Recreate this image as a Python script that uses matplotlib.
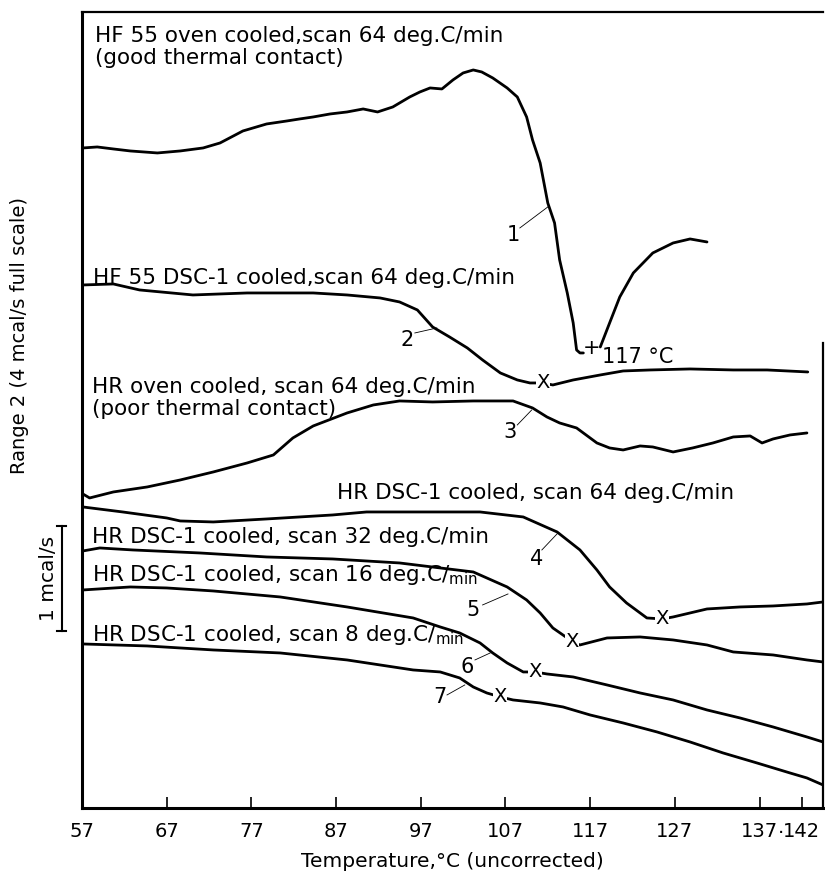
import matplotlib
matplotlib.use("Agg")
from matplotlib import pyplot as plt

plt.rcParams['mathtext.fontset'] = 'dejavusans'

# temperature (deg C) and recorder deflection (chart units, 0 = bottom of chart)
t1 = [57.1, 58.8, 60.7, 62.7, 65.9, 68.6, 71.3, 73.3, 76.0, 78.8, 81.2, 82.7, 84.3, 86.3,
      88.3, 90.2, 91.9, 93.7, 95.7, 96.9, 98.1, 99.5, 100.8, 102.0, 103.2, 104.2, 105.5,
      107.2, 108.4, 109.5, 110.2, 111.1, 112.0, 112.8, 113.4, 114.3, 115.0, 115.4, 115.8, 116.2]
y1 = [660, 661, 659, 657, 655, 657, 660, 665, 677, 684, 687, 689, 691, 694,
      696, 699, 696, 701, 711, 716, 720, 719, 728, 735, 738, 736, 730,
      720, 711, 691, 668, 645, 605, 585, 548, 515, 485, 458, 455, 455]
t1b = [118.2, 119.3, 120.5, 122.1, 124.4, 126.8, 128.8, 130.8]
y1b = [461, 485, 511, 535, 555, 565, 569, 566]

t2 = [57.1, 60.7, 63.8, 70.1, 76.5, 81.2, 84.3, 88.3, 92.2, 94.5, 96.6, 98.4, 100.4, 102.5,
      104.3, 106.4, 108.4, 109.9, 111.4, 112.6, 115.0, 118.2, 120.9, 124.1, 128.8, 133.9,
      137.9, 142.7]
y2 = [523, 524, 518, 513, 515, 515, 515, 513, 510, 506, 498, 481, 471, 460,
      448, 435, 428, 425, 425, 423, 428, 433, 437, 438, 439, 438, 438, 436]

t3 = [57.1, 57.9, 60.7, 64.7, 68.6, 72.5, 76.5, 79.6, 81.9, 84.3, 88.3, 91.4, 94.5, 98.4,
      103.2, 107.9, 110.2, 111.9, 113.4, 115.4, 117.8, 119.3, 120.9, 122.9, 124.4, 126.8,
      129.1, 131.5, 133.9, 135.9, 137.3, 138.6, 140.6, 142.6]
y3 = [314, 310, 316, 321, 328, 336, 345, 353, 370, 382, 395, 403, 407, 406,
      407, 407, 400, 391, 385, 380, 365, 360, 358, 362, 361, 356,
      360, 365, 371, 372, 365, 369, 373, 375]

t4 = [57.1, 61.8, 67.0, 68.6, 72.5, 78.8, 86.6, 90.6, 96.9, 104.0, 109.1, 113.1, 115.8,
      117.8, 119.3, 121.3, 123.7, 125.5, 126.8, 130.8, 134.7, 138.6, 142.6, 144.5]
y4 = [301, 296, 290, 287, 286, 289, 293, 296, 296, 296, 291, 276, 258,
      238, 221, 205, 190, 189, 191, 199, 201, 202, 204, 206]

t5 = [57.1, 59.1, 63.0, 70.9, 78.8, 86.6, 94.5, 99.3, 103.2, 107.2, 109.5, 111.1, 112.6,
      114.3, 114.9, 115.8, 119.0, 122.9, 126.8, 130.8, 133.9, 138.6, 142.6, 144.5]
y5 = [257, 260, 258, 255, 251, 249, 245, 240, 236, 221, 208, 195, 180,
      170, 166, 163, 170, 171, 168, 163, 156, 153, 148, 146]

t6 = [57.1, 62.7, 67.0, 72.5, 80.4, 88.3, 96.1, 99.3, 101.6, 104.0, 105.5, 107.2, 109.1,
      110.5, 111.9, 115.0, 119.0, 122.9, 126.8, 130.8, 134.7, 138.6, 142.6, 144.5]
y6 = [218, 221, 220, 217, 211, 201, 190, 181, 175, 165, 155, 145, 136,
      136, 134, 131, 123, 115, 108, 98, 90, 81, 71, 66]

t7 = [57.1, 64.7, 72.5, 80.4, 88.3, 96.1, 99.3, 101.6, 103.2, 104.8, 106.4, 107.9, 111.1,
      113.8, 117.0, 120.9, 124.9, 128.8, 132.7, 136.7, 140.6, 142.6, 144.5]
y7 = [164, 162, 158, 155, 148, 138, 136, 130, 121, 115, 111, 108, 105,
      101, 93, 85, 76, 66, 55, 45, 35, 30, 23]

# transition points marked with X on the traces
x_marks_t = [111.4, 125.5, 114.9, 110.5, 106.4]
x_marks_y = [425, 189, 166, 136, 111]

tick_temps = [57, 67, 77, 87, 97, 107, 117, 127, 137, 142]
tick_labels = ['57', '67', '77', '87', '97', '107', '117', '127', '137', '142']

captions = [
    "HF 55 oven cooled,scan 64 deg.C/min\n(good thermal contact)",
    "HF 55 DSC-1 cooled,scan 64 deg.C/min",
    "HR oven cooled, scan 64 deg.C/min\n(poor thermal contact)",
    "HR DSC-1 cooled, scan 64 deg.C/min",
    "HR DSC-1 cooled, scan 32 deg.C/min",
    r"HR DSC-1 cooled, scan 16 deg.C$/_{\mathrm{min}}$",
    r"HR DSC-1 cooled, scan 8 deg.C$/_{\mathrm{min}}$",
]
caption_t = [58.5, 58.3, 58.2, 87.1, 58.2, 58.2, 58.2]
caption_y = [761, 530, 410, 315, 271, 233, 173]

# curve numbers with their leader lines
num_t = [107.9, 95.4, 107.5, 110.7, 103.2, 102.5, 99.3]
num_y = [573, 468, 376, 249, 198, 141, 111]
lead_t0 = [108.7, 96.3, 108.4, 111.3, 104.3, 103.4, 100.1]
lead_y0 = [580, 475, 383, 258, 203, 148, 113]
lead_t1 = [112.0, 98.9, 110.1, 113.2, 107.3, 105.2, 102.2]
lead_y1 = [601, 480, 398, 275, 214, 155, 123]

fig = plt.figure(figsize=(8.25, 8.73), dpi=100)
ax = fig.add_axes([0.0994, 0.0745, 0.8982, 0.9118])

lw = 2.0
for t, y in [(t1, y1), (t1b, y1b), (t2, y2), (t3, y3), (t4, y4), (t5, y5), (t6, y6), (t7, y7)]:
    ax.plot(t, y, color='black', lw=lw, solid_capstyle='round', solid_joinstyle='round')

for t, y in zip(x_marks_t, x_marks_y):
    ax.text(t, y, 'X', ha='center', va='center', fontsize=14, color='black',
            bbox=dict(boxstyle='square,pad=0.02', fc='white', ec='none'))

ax.text(117.2, 460, '+', ha='center', va='center', fontsize=15)
ax.text(118.4, 451, '117 °C', ha='left', va='center', fontsize=15)

for s, t, y in zip(captions, caption_t, caption_y):
    ax.text(t, y, s, ha='left', va='center', fontsize=15.5, linespacing=1.1)

for i in range(len(num_t)):
    ax.text(num_t[i], num_y[i], str(i + 1), ha='center', va='center', fontsize=15)
    ax.plot([lead_t0[i], lead_t1[i]], [lead_y0[i], lead_y1[i]], color='black', lw=0.6)

# 1 mcal/s scale bar left of the axis
ax.plot([54.6, 54.6], [177, 282], color='black', lw=1.5, clip_on=False)
ax.plot([54.1, 55.1], [282, 282], color='black', lw=1.5, clip_on=False)
ax.plot([54.1, 55.1], [177, 177], color='black', lw=1.5, clip_on=False)
ax.text(53.0, 230, '1 mcal/s', rotation=90, ha='center', va='center', fontsize=14.5)

ax.set_xlim(57, 144.5)
ax.set_ylim(0, 796)
ax.set_xticks(tick_temps)
ax.set_xticklabels(tick_labels, fontsize=14)
ax.text(139.5, -26, '·', ha='center', va='center', fontsize=14, clip_on=False)
ax.tick_params(axis='x', direction='in', length=8, width=1.2, pad=10)
ax.set_yticks([])

for side in ['left', 'bottom']:
    ax.spines[side].set_linewidth(2.2)
ax.spines['top'].set_linewidth(1.6)
ax.spines['right'].set_linewidth(1.6)
ax.spines['right'].set_bounds(0, 465)

ax.set_xlabel('Temperature,°C (uncorrected)', fontsize=14.5, labelpad=8)
fig.text(0.024, 0.616, 'Range 2 (4 mcal/s full scale)', rotation=90, ha='center', va='center',
         fontsize=14)

plt.savefig('out.png', dpi=100)
